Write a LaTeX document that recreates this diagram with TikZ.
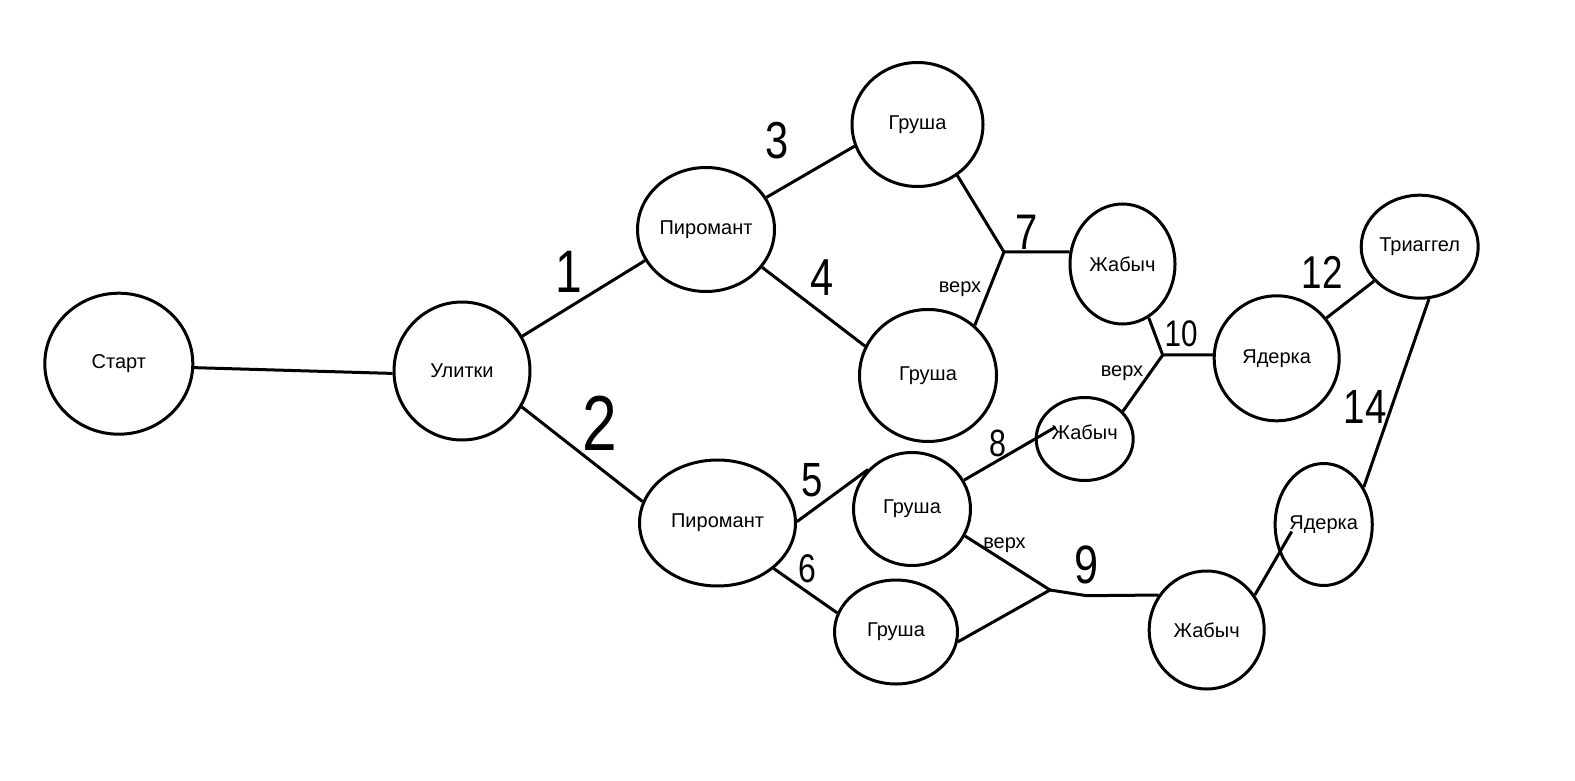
\documentclass[tikz,border=0pt]{standalone}
\usepackage{fontspec}
\setmainfont{Liberation Sans}
\newfontfamily\handnum[FakeStretch=0.8]{Liberation Sans}
\usetikzlibrary{shapes.geometric,calc}
\begin{document}
\begin{tikzpicture}[x=1pt,y=-1pt,
  circ/.style={ellipse,draw,line width=3pt,inner sep=0pt,font=\fontsize{20}{24}\selectfont},
  ln/.style={line width=3pt,line join=round},
  num/.style={inner sep=0pt,font=\handnum\fontsize{#1}{#1}\selectfont},
  lbl/.style={inner sep=0pt,font=\fontsize{20}{24}\selectfont}]
\useasboundingbox[fill=white] (0,0) rectangle (1575,781);
% nodes
\node[circ,minimum width=148pt,minimum height=141pt] (st) at (118.8,363.7) {Старт};
\node[circ,minimum width=136pt,minimum height=138pt] (ul) at (462,371) {Улитки};
\node[circ,minimum width=137pt,minimum height=124pt] (p1) at (706,229.5) {Пиромант};
\node[circ,minimum width=131pt,minimum height=124pt] (g1) at (917.5,124.5) {Груша};
\node[circ,minimum width=137pt,minimum height=132pt] (g2) at (928,375.5) {Груша};
\node[circ,minimum width=105pt,minimum height=120pt] (z1) at (1122.5,264) {Жабыч};
\node[circ,minimum width=156pt,minimum height=126pt] (p2) at (717.5,523) {Пиромант};
\node[circ,minimum width=117pt,minimum height=113pt] (g3) at (912,509) {Груша};
\node[circ,minimum width=123pt,minimum height=104pt] (g4) at (896,632) {Груша};
\node[circ,minimum width=97pt,minimum height=83pt,text depth=14pt] (z2) at (1084.7,439) {Жабыч};
\node[circ,minimum width=125pt,minimum height=125pt] (y1) at (1276.7,358.3) {Ядерка};
\node[circ,minimum width=117pt,minimum height=103pt] (t) at (1419.7,246.7) {Триаггел};
\node[circ,minimum width=94pt,minimum height=122pt] (y2) at (1323.7,524.5) {Ядерка};
\node[circ,minimum width=115pt,minimum height=118pt] (z3) at (1206.7,630) {Жабыч};
% junctions
\coordinate (j7) at (1004,252);
\coordinate (j9) at (1050,590);
\coordinate (k9) at (1086.7,595.7);
\coordinate (j10) at (1162.7,355);
\coordinate (e8) at ($(z2)+(-29,-12)$);
\coordinate (ey2) at ($(y2)+(-32,7)$);
% edges
\draw[ln] (st.-3) -- (ul.182);
\draw[ln] (ul.30) -- (p1.207);
\draw[ln] (ul.-31.5) -- (p2.164);
\draw[ln] (p1.28) -- (g1.199.5);
\draw[ln] (p1.-34) -- (g2.155);
\draw[ln] (g1.-52) -- (j7) -- (g2.47);
\draw[ln] (j7) -- (z1.167);
\draw[ln] (p2.1.7) -- (g3.138.4);
\draw[ln] (p2.-39.4) -- (g4.162.3);
\draw[ln] (g3.29.3) -- (e8);
\draw[ln] (g3.-27) -- (j9) -- (g4.-9);
\draw[ln] (j9) -- (k9) -- (z3.144);
\draw[ln] (z1.-64) -- (j10) -- (y1.177);
\draw[ln] (j10) -- (z2.36);
\draw[ln] (y1.39.6) -- (t.217);
\draw[ln] (t.-80.7) -- (y2.43.7);
\draw[ln] (z3.36) -- (ey2);
% labels
\node[num=52] (n3) at (777,141) {3};
\node[num=60] (n1) at (569,272) {1};
\node[num=52] (n4) at (822,278) {4};
\node[num=78] (n2) at (600,423) {2};
\node[num=48] (n5) at (812,480) {5};
\node[num=40] (n6) at (807,569) {6};
\node[num=38] (n8) at (998,443) {8};
\node[num=50] (n7) at (1027,232) {7};
\node[num=37] (n10) at (1181,334) {10};
\node[num=46] (n12) at (1322,272) {12};
\node[num=54] (n9) at (1087,565) {9};
\node[num=48] (n14) at (1365,407) {14};
\node[lbl] (v1) at (960,289) {верх};
\node[lbl] (v2) at (1122,373) {верх};
\node[lbl] (v3) at (1004.5,545) {верх};
\end{tikzpicture}
\end{document}
